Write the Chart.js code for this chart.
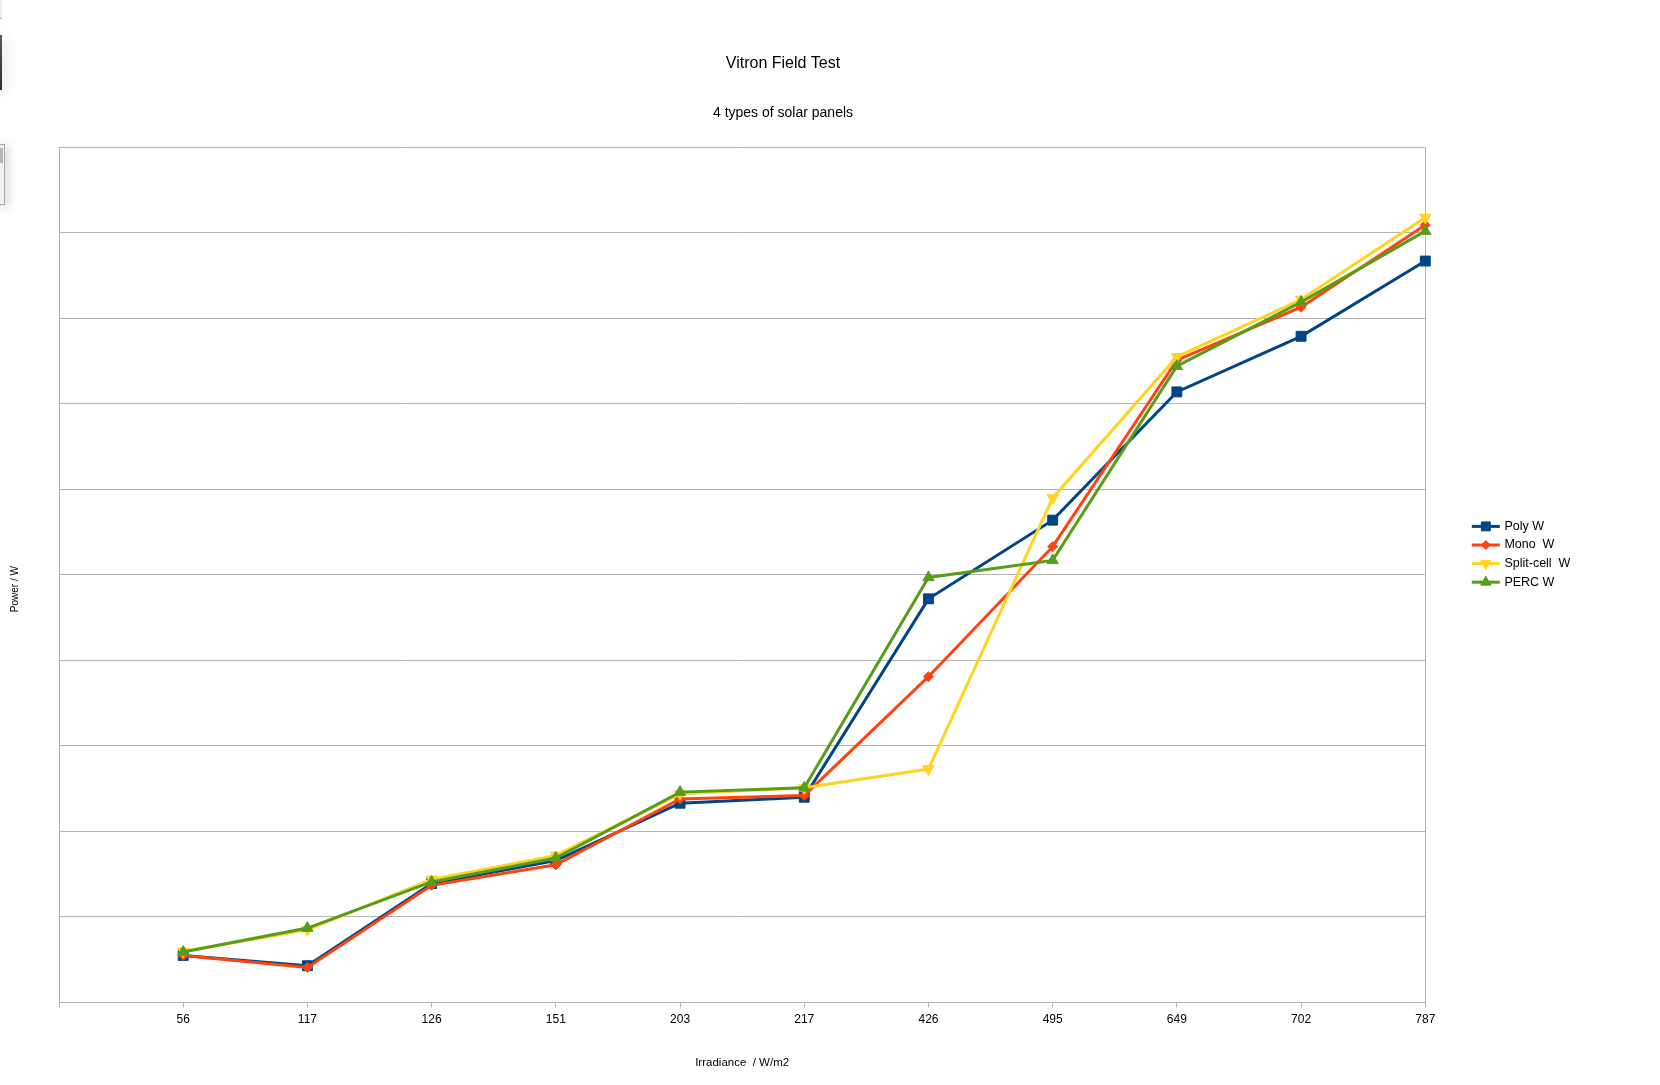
<!DOCTYPE html>
<html>
<head>
<meta charset="utf-8">
<title>Vitron Field Test</title>
<script src="https://cdn.jsdelivr.net/npm/chart.js@4/dist/chart.umd.min.js"></script>
<style>
  html, body { margin: 0; padding: 0; background: #fff; }
  #wrap { position: relative; width: 1660px; height: 1085px; }
  /* bits of the neighbouring window caught in the screenshot */
  .edge-top { position: absolute; left: 0; top: 0; width: 2px; height: 18px; background: #ececec; border-bottom: 1px solid #a8a8a8; }
  .edge-dark { position: absolute; left: 0; top: 35px; width: 2px; height: 55px; background: linear-gradient(#5a5a52, #2e2e2a); box-shadow: 2px 2px 12px rgba(0,0,0,0.35); }
  .edge-box { position: absolute; left: 0; top: 144px; width: 4px; height: 59px; background: #f1f1f1; border: 1px solid #a8a8a8; border-left: none; box-shadow: 2px 2px 10px rgba(0,0,0,0.25); }
  .edge-box::before { content: ''; position: absolute; left: 0; top: 3px; width: 3px; height: 15px; background: #b8b8b8; }
</style>
</head>
<body>
<div id="wrap">
  <canvas id="fieldChart"></canvas>
  <div class="edge-top"></div>
  <div class="edge-dark"></div>
  <div class="edge-box"></div>
</div>
<script>
const irradiance = ['56', '117', '126', '151', '203', '217', '426', '495', '649', '702', '787'];

const polyW = [0.55, 0.43, 1.39, 1.66, 2.33, 2.40, 4.72, 5.64, 7.14, 7.79, 8.67];
const monoW = [0.55, 0.41, 1.37, 1.61, 2.38, 2.42, 3.81, 5.33, 7.51, 8.13, 9.09];
const splitCellW = [0.60, 0.85, 1.44, 1.72, 2.44, 2.51, 2.73, 5.90, 7.55, 8.22, 9.18];
const percW = [0.59, 0.87, 1.41, 1.69, 2.46, 2.51, 4.97, 5.17, 7.44, 8.19, 9.02];

const yTitle = 'Power / W';
const gridColor = '#b3b3b3';
const fontFamily = '"Liberation Sans", Arial, sans-serif';

Chart.defaults.font.family = fontFamily;
Chart.defaults.color = '#000';

function toPoints(values) {
    return values.map((v, i) => ({ x: i + 1, y: v }));
}

function series(label, values, color, style, radius, rotation, order) {
    return {
        label: label,
        data: toPoints(values),
        borderColor: color,
        backgroundColor: color,
        borderWidth: 3,
        tension: 0,
        pointStyle: style,
        pointRadius: radius,
        pointHoverRadius: radius,
        pointRotation: rotation,
        pointBorderWidth: 1,
        pointBorderColor: color,
        pointBackgroundColor: color,
        clip: false,
        order: order
    };
}

// LibreOffice style legend (short line with the marker on it) and the y title,
// which sits a bit below the middle of the plot in the original
const sideLegend = {
    id: 'sideLegend',
    afterDraw(chart) {
        const { ctx, chartArea } = chart;
        const mid = (chartArea.top + chartArea.bottom) / 2;
        const x0 = chartArea.right + 46.5;
        let y = mid - 48.5;
        ctx.save();
        ctx.font = '12.5px ' + fontFamily;
        ctx.textBaseline = 'middle';
        ctx.textAlign = 'left';
        chart.data.datasets.forEach(ds => {
            ctx.strokeStyle = ds.borderColor;
            ctx.lineWidth = 3;
            ctx.beginPath();
            ctx.moveTo(x0, y);
            ctx.lineTo(x0 + 28, y);
            ctx.stroke();
            ctx.fillStyle = ds.borderColor;
            ctx.lineWidth = 1;
            Chart.helpers.drawPoint(ctx, {
                pointStyle: ds.pointStyle,
                radius: ds.pointRadius * 0.9,
                rotation: ds.pointRotation,
                borderWidth: 1
            }, x0 + 14, y);
            ctx.fillStyle = '#000';
            ctx.fillText(ds.label, x0 + 32.6, y);
            y += 18.6;
        });

        ctx.translate(15, mid + 14.2);
        ctx.rotate(-Math.PI / 2);
        ctx.font = '10px ' + fontFamily;
        ctx.textAlign = 'center';
        ctx.fillStyle = '#000';
        ctx.fillText(yTitle, 0, 0);
        ctx.restore();
    }
};

new Chart(document.getElementById('fieldChart'), {
    type: 'line',
    data: {
        datasets: [
            series('Poly W', polyW, '#004586', 'rect', 7, 0, 4),
            series('Mono  W', monoW, '#ff420e', 'rectRot', 5, 0, 3),
            series('Split-cell  W', splitCellW, '#ffd320', 'triangle', 6.5, 180, 2),
            series('PERC W', percW, '#579d1c', 'triangle', 6.5, 0, 1)
        ]
    },
    options: {
        responsive: true,
        maintainAspectRatio: false,
        animation: false,
        layout: { padding: { left: 0, right: 94, top: 0, bottom: 0 } },
        plugins: {
            legend: { display: false },
            tooltip: { enabled: false },
            title: {
                display: true,
                text: 'Vitron Field Test',
                font: { size: 16, weight: 'normal' },
                padding: { top: 53.7, bottom: 0 }
            },
            subtitle: {
                display: true,
                text: '4 types of solar panels',
                font: { size: 14, weight: 'normal' },
                padding: { top: 31.4, bottom: 26.2 }
            }
        },
        scales: {
            x: {
                type: 'linear',
                min: 0,
                max: irradiance.length,
                ticks: {
                    stepSize: 1,
                    autoSkip: false,
                    maxRotation: 0,
                    padding: 5.4,
                    font: { size: 12 },
                    callback: (v) => irradiance[v - 1] || ''
                },
                grid: {
                    color: (c) => c.tick && c.tick.value === irradiance.length ? gridColor : 'rgba(0,0,0,0)',
                    tickColor: gridColor,
                    tickLength: 5
                },
                border: { color: gridColor },
                title: {
                    display: true,
                    text: 'Irradiance  / W/m2',
                    font: { size: 11.5 },
                    padding: { top: 23.7, bottom: 14.8 }
                }
            },
            y: {
                min: 0,
                max: 10,
                ticks: { display: false, stepSize: 1 },
                grid: { color: gridColor, drawTicks: false },
                border: { color: gridColor },
                afterFit: (scale) => { scale.width = 59; }
            },
            legendSpace: {
                type: 'linear',
                position: 'right',
                display: true,
                ticks: { display: false },
                grid: { display: false, drawTicks: false },
                border: { display: false },
                afterFit: (scale) => { scale.width = 140.7; }
            }
        }
    },
    plugins: [sideLegend]
});
</script>
</body>
</html>
